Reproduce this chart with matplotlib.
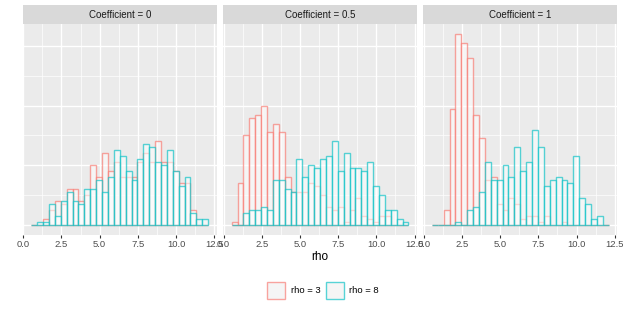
import numpy as np
import matplotlib
matplotlib.use('Agg')
import matplotlib.pyplot as plt
from matplotlib.patches import Patch, Rectangle

plt.rcParams['font.family'] = ['Liberation Sans', 'DejaVu Sans']

# histogram bins (30 bins, shared across panels)
bin_lo, bin_hi, n_bins = 0.53, 12.10, 30

coefficients = ['0', '0.5', '1']
rho_labels = ['rho = 3', 'rho = 8']

# counts per bin, rho = 3
counts_rho3 = [
    [0, 0, 2, 5, 8, 7, 12, 12, 8, 10, 20, 16, 24, 18, 21,
     16, 16, 16, 21, 24, 21, 28, 21, 21, 18, 14, 14, 5, 0, 0],
    [1, 14, 30, 36, 37, 40, 31, 34, 31, 16, 11, 11, 11, 14, 13,
     10, 6, 5, 6, 1, 5, 9, 3, 2, 1, 3, 3, 0, 0, 0],
    [0, 0, 5, 39, 64, 61, 56, 37, 29, 15, 16, 7, 5, 9, 7,
     2, 3, 3, 1, 3, 0, 0, 1, 0, 0, 0, 0, 0, 0, 0],
]
# counts per bin, rho = 8
counts_rho8 = [
    [0, 1, 1, 7, 3, 8, 11, 8, 7, 12, 12, 15, 11, 16, 25,
     23, 18, 15, 22, 27, 26, 21, 20, 25, 18, 13, 16, 4, 2, 2],
    [0, 0, 4, 5, 5, 6, 5, 15, 15, 12, 11, 22, 16, 20, 19,
     22, 23, 28, 18, 24, 19, 19, 18, 21, 13, 10, 5, 5, 2, 1],
    [0, 0, 0, 0, 1, 0, 5, 6, 11, 21, 15, 15, 20, 16, 26,
     18, 21, 32, 26, 13, 15, 16, 15, 14, 23, 9, 7, 2, 3, 0],
]

x_breaks = [0.0, 2.5, 5.0, 7.5, 10.0, 12.5]
x_break_labels = ['0.0', '2.5', '5.0', '7.5', '10.0', '12.5']

colors = ['#F8766D', '#00BFC4']

edges = np.linspace(bin_lo, bin_hi, n_bins + 1)
width = edges[1] - edges[0]
centers = edges[:-1] + width / 2

# ggplot-like 5% expansion
xpad = 0.05 * (bin_hi - bin_lo)
ymax = max(max(max(c) for c in counts_rho3), max(max(c) for c in counts_rho8))
ypad = 0.05 * ymax

fig = plt.figure(figsize=(6.23, 3.12), dpi=100)

W, H = 623, 312
panel_w = 194.5
panel_top, panel_bot = 24.3, 234.7
strip_top = 5.0
lefts = [22.5, 222.8, 423.0]

for i, coef in enumerate(coefficients):
    ax = fig.add_axes([lefts[i] / W, 1 - panel_bot / H,
                       panel_w / W, (panel_bot - panel_top) / H])
    ax.set_facecolor('#EBEBEB')
    for s in ax.spines.values():
        s.set_visible(False)

    for counts, col in zip([counts_rho3[i], counts_rho8[i]], colors):
        ax.bar(centers, counts, width=width,
               facecolor=(1, 1, 1, 0.55),
               edgecolor=matplotlib.colors.to_rgba(col, 0.65),
               linewidth=1.0, zorder=3)

    ax.set_xlim(bin_lo - xpad, bin_hi + xpad)
    ax.set_ylim(-ypad, ymax + ypad)

    ax.set_xticks(x_breaks)
    ax.set_xticklabels(x_break_labels)
    ax.set_xticks(np.arange(1.25, 12.6, 2.5), minor=True)
    ax.set_yticks([0, 20, 40, 60])
    ax.set_yticks([10, 30, 50], minor=True)
    ax.grid(which='major', color='white', linewidth=1.0, zorder=0)
    ax.grid(which='minor', color='white', linewidth=0.5, zorder=0)
    ax.set_axisbelow(True)
    ax.tick_params(axis='y', which='both', left=False, labelleft=False)
    ax.tick_params(axis='x', which='minor', bottom=False)
    ax.tick_params(axis='x', which='major', length=2.3, width=0.8,
                   color='#333333', labelsize=6.8, labelcolor='#4D4D4D', pad=1.8)

    # facet strip
    strip_h = (panel_top - strip_top) / (panel_bot - panel_top)
    ax.add_patch(Rectangle((0, 1), 1, strip_h, transform=ax.transAxes,
                           facecolor='#D9D9D9', edgecolor='none', clip_on=False))
    ax.text(0.5, 1 + strip_h / 2, f'Coefficient = {coef}', transform=ax.transAxes,
            ha='center', va='center', fontsize=7.0, color='#1A1A1A')

fig.text(320 / W, 1 - 257 / H, 'rho', ha='center', va='center',
         fontsize=8.6, color='black')

handles = [Patch(facecolor='#F5F5F5',
                 edgecolor=matplotlib.colors.to_rgba(c, 0.65), linewidth=1.0)
           for c in colors]
fig.legend(handles, rho_labels, loc='center', ncol=2,
           bbox_to_anchor=(323 / W, 1 - 290.5 / H), frameon=False,
           fontsize=6.8, handlelength=1.9, handleheight=2.5,
           handletextpad=0.55, columnspacing=0.6)

fig.savefig('out.png', dpi=100)
